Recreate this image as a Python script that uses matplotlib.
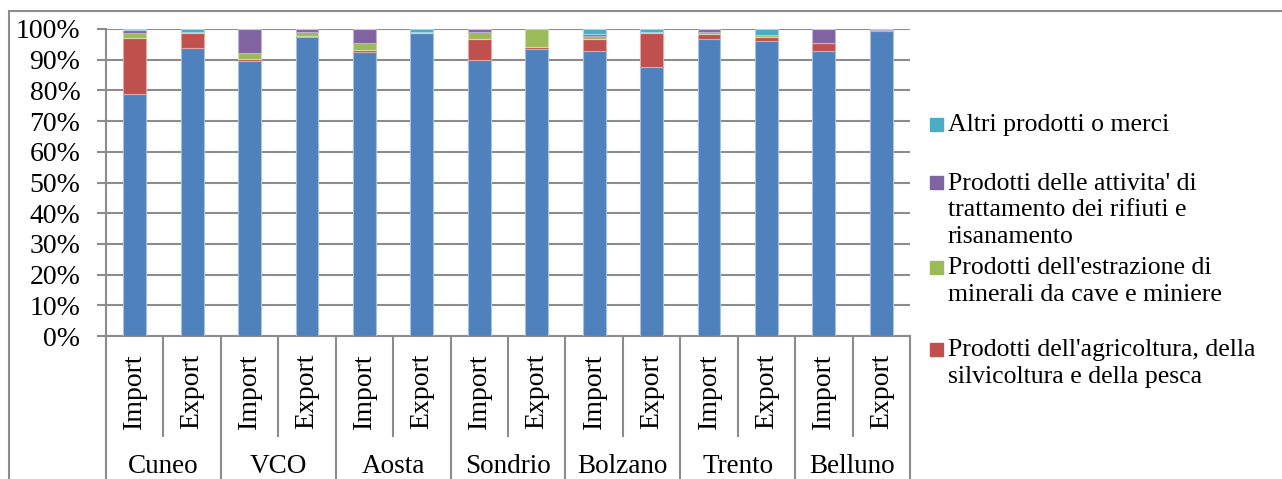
import numpy as np
import matplotlib
matplotlib.use('Agg')
import matplotlib.pyplot as plt
from matplotlib.patches import Rectangle
from matplotlib.lines import Line2D

# Data (percent of each flow)
regions = ['Cuneo', 'VCO', 'Aosta', 'Sondrio', 'Bolzano', 'Trento', 'Belluno']
flows = ['Import', 'Export']

manifatturiere = [78.9, 93.9, 89.7, 97.4, 92.4, 98.8, 89.9, 93.4, 92.9, 87.5, 96.8, 96.2, 92.8, 99.5]
agricoltura = [18.3, 4.9, 0.4, 0.4, 0.7, 0.0, 6.9, 0.8, 3.7, 11.1, 1.7, 1.3, 2.5, 0.2]
estrazione = [1.4, 0.2, 2.0, 1.2, 2.2, 0.2, 2.2, 5.8, 1.2, 0.3, 0.5, 0.4, 0.0, 0.0]
rifiuti = [1.2, 0.0, 7.9, 0.9, 4.7, 0.0, 1.0, 0.0, 0.7, 0.0, 1.0, 0.0, 4.7, 0.3]
altri = [0.2, 1.0, 0.0, 0.1, 0.0, 1.0, 0.0, 0.0, 1.5, 1.1, 0.0, 2.1, 0.0, 0.0]

series = [
    ("Prodotti delle attivita' manifatturiere", manifatturiere, '#4F81BD', '#A7C0DE'),
    ("Prodotti dell'agricoltura, della\nsilvicoltura e della pesca", agricoltura, '#C0504D', '#DFA7A6'),
    ("Prodotti dell'estrazione di\nminerali da cave e miniere", estrazione, '#9BBB59', '#CDDDAC'),
    ("Prodotti delle attivita' di\ntrattamento dei rifiuti e\nrisanamento", rifiuti, '#8064A2', '#BFB1D0'),
    ("Altri prodotti o merci", altri, '#4BACC6', '#A5D5E2'),
]

plt.rcParams['font.family'] = ['Liberation Serif', 'DejaVu Serif']
FS_LEG = 18.5
FS_AX = 20
GRID = '#8C8C8C'

fig = plt.figure(figsize=(12.82, 4.79), dpi=100)
W, H = 1282, 479
ax = fig.add_axes([106 / W, 1 - 336 / H, (910 - 106) / W, (336 - 29) / H])

x = np.arange(len(manifatturiere))
bottom = np.zeros(len(x))
for name, vals, col, edge in series:
    vals = np.array(vals)
    ax.bar(x, vals, 0.4, bottom=bottom, color=col, edgecolor=edge, linewidth=0.8, zorder=3)
    bottom += vals

ax.set_xlim(-0.5, len(x) - 0.5)
ax.set_ylim(0, 100)
ax.set_yticks(np.arange(0, 101, 10))
ax.set_yticklabels([f'{v}%' for v in range(0, 101, 10)], fontsize=FS_AX)
ax.yaxis.grid(True, color=GRID, linewidth=1.5, zorder=0)
ax.tick_params(axis='y', length=6.5, width=1.5, color=GRID, pad=12)
ax.set_xticks([])
for s in ['top', 'right']:
    ax.spines[s].set_visible(False)
ax.spines['left'].set_visible(False)
ax.spines['bottom'].set_color(GRID)
ax.spines['bottom'].set_linewidth(1.5)

# category axis: separator lines and two-level labels
trans = ax.get_xaxis_transform()
for k in range(len(x) + 1):
    xs = k - 0.5
    y_end = -0.95 if k % 2 == 0 else -0.325
    ax.add_line(Line2D([xs, xs], [1.0 if k == 0 else 0, y_end], transform=trans,
                       color=GRID, linewidth=1.5, clip_on=False))
for i in x:
    ax.text(i, -0.18, flows[i % 2], rotation=90, ha='center', va='center',
            fontsize=FS_AX, transform=trans)
for g, name in enumerate(regions):
    ax.text(2 * g + 0.5, -0.425, name, ha='center', va='center', fontsize=19.5, transform=trans)

# legend (upper entries only, as in the reference)
legend_items = [(series[4], 125, 125), (series[3], 183, 210.5),
                (series[2], 268, 281.5), (series[1], 350, 363.5)]
for (name, vals, col, edge), ymark, ytext in legend_items:
    fig.patches.append(Rectangle((930 / W, 1 - (ymark + 6) / H), 13 / W, 13 / H,
                                 transform=fig.transFigure, color=col))
    fig.text(948 / W, 1 - ytext / H, name, ha='left', va='center', fontsize=FS_LEG,
             linespacing=1.26)

# outer chart border (cut off at right and bottom)
fig.patches.append(Rectangle((9 / W, -0.1), 1.2, 1 - 11 / H + 0.1, transform=fig.transFigure,
                             fill=False, edgecolor=GRID, linewidth=1.5))

fig.savefig('out.png', dpi=100)
